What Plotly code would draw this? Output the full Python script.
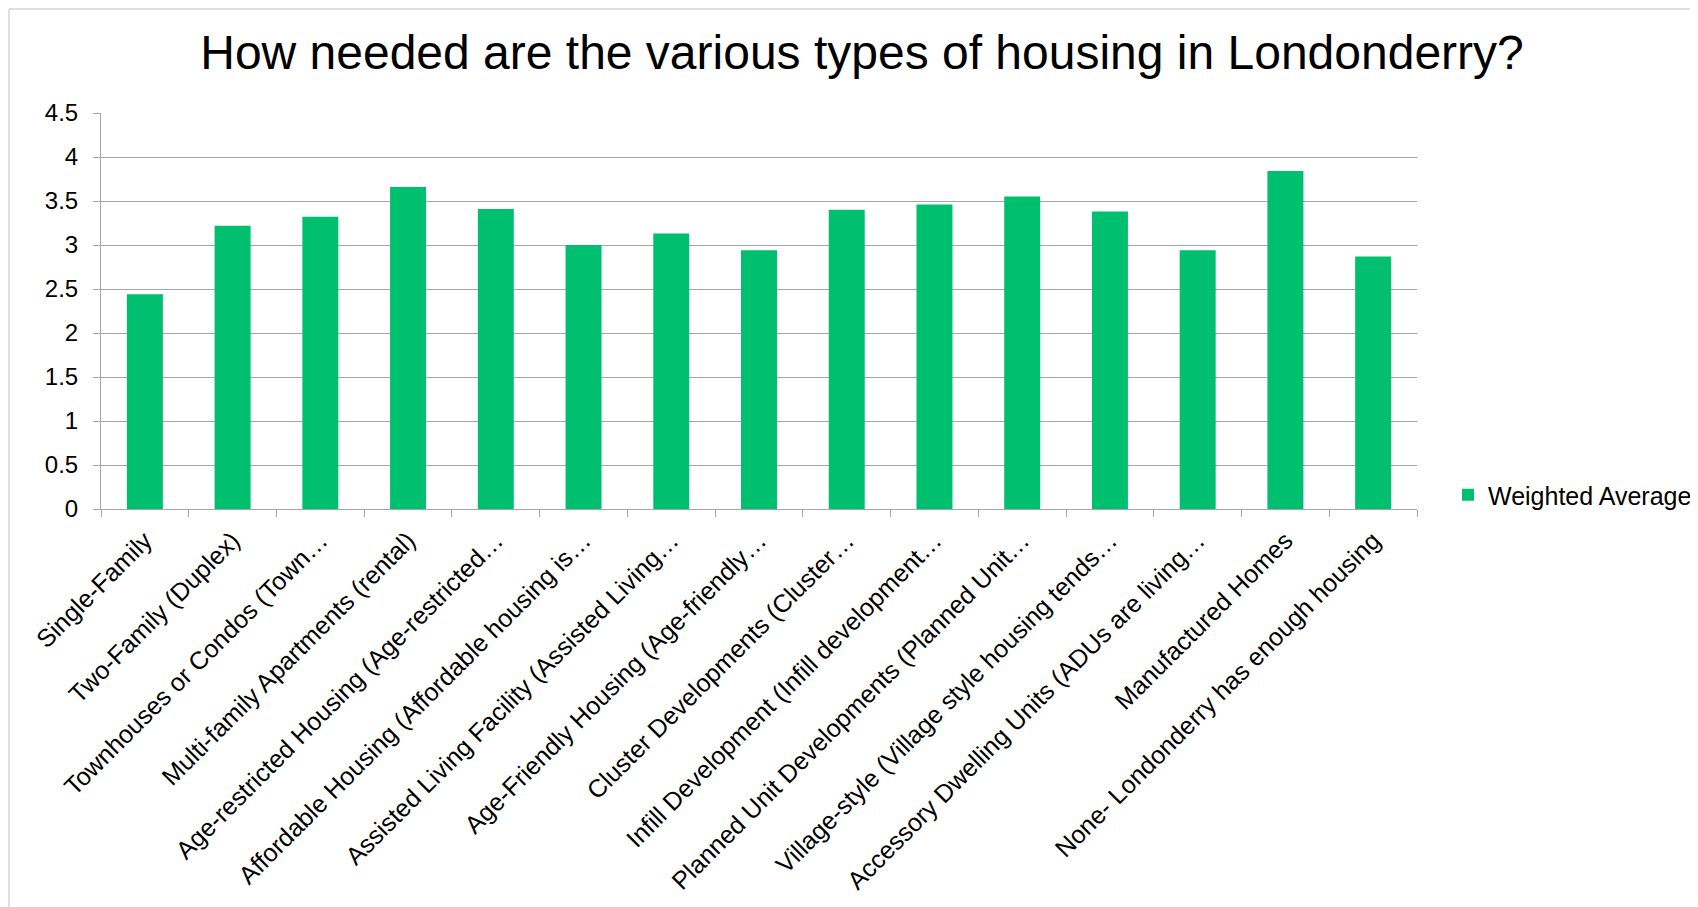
import plotly.graph_objects as go

# Survey question: how needed are the various housing types (weighted average score)
categories = [
    "Single-Family",
    "Two-Family (Duplex)",
    "Townhouses or Condos (Town…",
    "Multi-family Apartments (rental)",
    "Age-restricted Housing (Age-restricted…",
    "Affordable Housing (Affordable housing is…",
    "Assisted Living Facility (Assisted Living…",
    "Age-Friendly Housing (Age-friendly…",
    "Cluster Developments (Cluster…",
    "Infill Development (Infill development…",
    "Planned Unit Developments (Planned Unit…",
    "Village-style (Village style housing tends…",
    "Accessory Dwelling Units (ADUs are living…",
    "Manufactured Homes",
    "None- Londonderry has enough housing",
]
weighted_average = [2.44, 3.22, 3.32, 3.66, 3.41, 3.00, 3.13, 2.94,
                    3.40, 3.46, 3.55, 3.38, 2.94, 3.84, 2.87]
y_ticks = [0, 0.5, 1, 1.5, 2, 2.5, 3, 3.5, 4, 4.5]
y_tick_labels = ["0", "0.5", "1", "1.5", "2", "2.5", "3", "3.5", "4", "4.5"]

# the page body has an 8px margin, so the figure is sized to fit inside it
W, H = 1690, 899
L, R, T, B = 93, 281, 105, 398
plot_w = W - L - R
plot_h = H - T - B
FONT = "Liberation Sans, Arial, sans-serif"
GRID = "#A6A6A6"

fig = go.Figure()
fig.add_trace(go.Bar(
    x=categories,
    y=weighted_average,
    name="Weighted Average",
    marker=dict(color="#00BF6F", line=dict(width=0)),
    showlegend=True,
))

fig.update_layout(
    width=W,
    height=H,
    margin=dict(l=L, r=R, t=T, b=B, autoexpand=False),
    paper_bgcolor="white",
    plot_bgcolor="white",
    font=dict(family=FONT, size=24, color="#000000"),
    title=dict(
        text="How needed are the various types of housing in Londonderry?",
        font=dict(size=48, color="#000000"),
        x=854 / W, xanchor="center",
        y=1 - 44 / H, yanchor="middle",
    ),
    bargap=0.59,
    showlegend=True,
    legend=dict(
        x=(1440 - L) / plot_w, xanchor="left",
        y=(501 - 487) / plot_h, yanchor="middle",
        font=dict(size=25),
        itemwidth=30,
        bgcolor="rgba(0,0,0,0)",
    ),
    xaxis=dict(
        tickangle=-45,
        showline=True, linecolor=GRID, linewidth=1,
        ticks="outside", tickson="boundaries", ticklen=7, tickcolor=GRID,
        showgrid=False,
        tickfont=dict(size=25),
        ticklabelstandoff=6,
        automargin=False,
    ),
    yaxis=dict(
        range=[0, 4.5],
        tickvals=y_ticks, ticktext=y_tick_labels,
        showline=True, linecolor=GRID, linewidth=1,
        ticks="outside", ticklen=7, tickcolor=GRID,
        showgrid=True, gridcolor=GRID, gridwidth=1,
        zeroline=False,
        tickfont=dict(size=24),
        ticklabelstandoff=10,
        automargin=False,
    ),
)

# light chart-area border (left and top edges visible in the source)
fig.add_shape(
    type="rect", xref="paper", yref="paper",
    x0=(1 - L) / plot_w, x1=(W + 20 - L) / plot_w,
    y0=-(H + 20 - T - plot_h) / plot_h, y1=(plot_h + T - 1) / plot_h,
    line=dict(color="#BFBFBF", width=1), layer="below",
)

fig.write_html("out.html")
